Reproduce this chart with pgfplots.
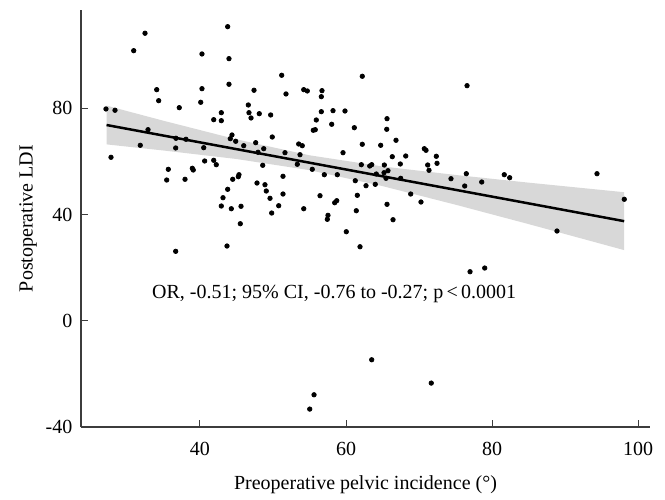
\documentclass[border=0pt]{standalone}
\usepackage{fontspec}
\setmainfont{Liberation Serif}
\usepackage{pgfplots}
\pgfplotsset{compat=1.18}

\definecolor{axisgray}{RGB}{60,60,60}
\definecolor{bandgray}{RGB}{216,216,216}

\begin{document}
\begin{tikzpicture}
% picture frame: 665 x 499 px at 0.5pt per px
\path[use as bounding box] (-40.5pt,-36pt) rectangle (292pt,213.5pt);
\begin{axis}[
    at={(0,0)}, anchor=south west,
    scale only axis,
    width=284.5pt, height=208.5pt,
    xmin=23.7, xmax=101.64,
    ymin=-40, ymax=117,
    axis x line*=bottom,
    axis y line*=left,
    axis line style={axisgray, line width=0.65pt},
    tick align=inside,
    major tick length=3.5pt,
    tick style={axisgray, line width=0.5pt},
    xtick={40,60,80,100},
    xticklabels={40,60,80,100},
    ytick={-40,0,40,80},
    yticklabels={-40,0,40,80},
    xticklabel style={yshift=-4pt},
    yticklabel style={xshift=-0.8pt},
    xlabel={Preoperative pelvic incidence (°)},
    ylabel={Postoperative LDI},
    xlabel style={at={(axis description cs:0.5,-0.139)}, anchor=center},
    ylabel style={at={(axis description cs:-0.0931,0.5)}, anchor=center},
    clip=false,
]
% confidence band (upper edge, then lower edge back)
\addplot[draw=none, fill=bandgray] coordinates {
    (27.2,81.0) (35,75.3) (45,68.3) (55,62.3) (65,58.1) (75,54.9) (85,52.0) (98.1,48.4)
    (98.1,26.6) (85,36.4) (75,43.7) (65,50.7) (55,56.7) (45,60.9) (35,64.1) (27.2,66.4)
};
% observations
\addplot[only marks, mark=*, mark size=1.1pt, mark options={draw=none, fill=black}] coordinates {
    (43.79,110.73) (32.47,108.25) (30.92,101.69) (40.27,100.45) (43.97,98.68)
    (43.97,89.04) (34.07,87.01) (40.27,87.38) (47.40,86.78) (34.34,82.86)
    (40.10,82.26) (37.16,80.23) (27.12,79.74) (28.36,79.25) (46.62,81.24)
    (46.71,78.34) (46.99,76.35) (48.12,77.97) (49.68,77.48) (42.92,78.34)
    (41.88,75.71) (42.92,75.33) (32.88,71.94) (44.38,69.94) (44.15,68.55)
    (44.89,67.57) (45.99,65.91) (47.63,67.04) (49.90,69.19) (36.71,68.70)
    (38.08,68.32) (31.82,66.06) (36.67,65.05) (40.51,65.16) (48.73,64.78)
    (47.95,63.43) (27.81,61.54) (40.64,60.15) (41.88,60.41) (42.23,58.76)
    (48.59,58.53) (35.66,57.02) (38.95,57.40) (39.08,56.76) (45.34,54.99)
    (45.25,54.24) (35.44,52.99) (37.95,53.26) (44.48,53.26) (43.79,49.49)
    (47.81,51.86) (48.90,51.22) (49.08,48.85) (49.59,46.10) (43.15,46.33)
    (42.92,43.20) (44.29,42.18) (45.62,43.09) (49.82,40.56) (50.78,43.31)
    (45.52,36.53) (36.67,26.14) (43.70,28.14) (51.19,92.43) (62.23,92.05)
    (51.78,85.39) (54.21,87.01) (54.70,86.52) (56.71,86.63) (56.62,84.37)
    (56.62,78.72) (58.22,79.10) (59.86,78.98) (55.93,75.59) (58.04,73.97)
    (55.52,71.71) (55.79,71.94) (61.14,72.69) (65.62,76.08) (65.58,72.09)
    (66.85,67.95) (53.52,66.55) (54.01,65.91) (62.23,66.44) (64.75,66.06)
    (51.64,63.28) (53.70,62.52) (59.59,63.28) (66.34,61.77) (68.18,62.03)
    (70.73,64.78) (70.96,64.18) (72.37,61.92) (72.47,59.28) (71.19,58.64)
    (71.37,56.65) (67.44,59.02) (62.10,58.76) (63.25,58.27) (63.52,58.76)
    (65.25,58.64) (65.75,56.50) (65.21,55.74) (64.15,55.25) (53.33,58.91)
    (55.38,57.02) (57.03,54.99) (58.81,54.99) (51.37,54.39) (74.38,53.48)
    (65.48,53.63) (67.49,53.63) (51.37,47.72) (61.27,52.73) (62.74,50.85)
    (64.01,51.37) (56.44,47.08) (61.55,47.23) (58.45,44.44) (58.73,45.20)
    (54.21,42.18) (57.53,39.70) (57.44,38.19) (61.41,41.43) (65.62,43.84)
    (66.44,38.04) (68.86,47.72) (70.27,44.71) (60.04,33.52) (61.92,27.87)
    (76.58,88.51) (76.48,55.37) (81.68,54.99) (82.42,53.86) (94.38,55.37)
    (76.26,50.73) (78.59,52.24) (98.12,45.73) (88.90,33.79) (76.99,18.46)
    (79.00,19.85) (63.52,-14.69) (71.68,-23.47) (55.62,-27.87) (55.03,-33.26)
};
% fitted line
\addplot[black, line width=1.25pt] coordinates {(27.2,73.7) (98.1,37.5)};
\node[anchor=base west, inner sep=0pt] at (axis cs:33.4,8.4)
    {OR, -0.51; 95\% CI, -0.76 to -0.27; p\,<\,0.0001};
\end{axis}
\end{tikzpicture}
\end{document}
